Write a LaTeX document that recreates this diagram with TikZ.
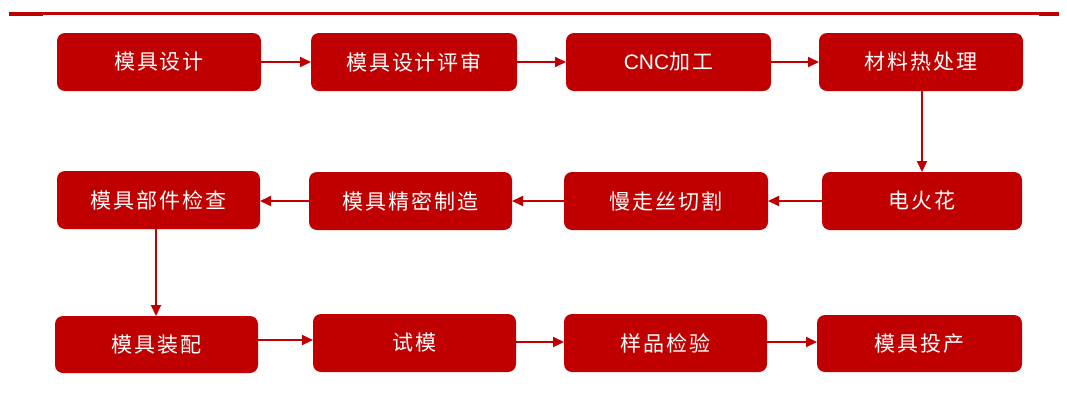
\documentclass[tikz,border=0pt]{standalone}
\usepackage{fontspec}
\newfontfamily\cjk{Noto Sans CJK SC}
\newfontfamily\latinsans{Liberation Sans}
\usetikzlibrary{arrows.meta}
\definecolor{boxred}{HTML}{C00000}
\tikzset{
  x=1pt, y=-1pt,
  stage/.style={text=white,
    font=\cjk\fontsize{21pt}{24pt}\selectfont\addfontfeature{LetterSpace=9},
    inner sep=0pt},
  flow/.style={draw=boxred, line width=2pt, -{Triangle[length=11pt,width=10pt]}},
}
\newcommand{\stagebox}[6]{%
  \path[fill=boxred, rounded corners=8pt] (#1,#2) rectangle (#3,#4);
  \node[stage, anchor=center] (#5) at ({(#1+#3)/2},{(#2+#4)/2}) {#6};
  \coordinate (#5-w) at (#1,{(#2+#4)/2});
  \coordinate (#5-e) at (#3,{(#2+#4)/2});
  \coordinate (#5-n) at ({(#1+#3)/2},#2);
  \coordinate (#5-s) at ({(#1+#3)/2},#4);
}
\begin{document}
\begin{tikzpicture}
\useasboundingbox (0,0) rectangle (1067,392);
% top rule
\fill[boxred] (9,12.3) rectangle (1059,14.8);
\fill[boxred] (9,12.3) rectangle (43,15.7);
\fill[boxred] (1039,12.3) rectangle (1059,15.7);
% row 1
\stagebox{57}{33}{261}{91}{a}{模具设计}
\stagebox{311}{33}{517}{91}{b}{模具设计评审}
\stagebox{566}{33}{771}{91}{c}{{\latinsans\fontsize{21pt}{24pt}\selectfont CNC}加工}
\stagebox{819}{33}{1023}{91}{d}{材料热处理}
% row 2
\stagebox{822}{172}{1022}{230}{e}{电火花}
\stagebox{564}{172}{768}{230}{f}{慢走丝切割}
\stagebox{309}{172}{512}{230}{g}{模具精密制造}
\stagebox{57}{171}{260}{229}{h}{模具部件检查}
% row 3
\stagebox{55}{316}{258}{373}{i}{模具装配}
\stagebox{313}{314}{516}{372}{j}{试模}
\stagebox{564}{314}{767}{372}{k}{样品检验}
\stagebox{817}{315}{1022}{372}{l}{模具投产}
% connectors
\draw[flow] (a-e) -- (b-w);
\draw[flow] (b-e) -- (c-w);
\draw[flow] (c-e) -- (d-w);
\draw[flow] (d-s -| e-n) -- (e-n);
\draw[flow] (e-w) -- (f-e);
\draw[flow] (f-w) -- (g-e);
\draw[flow] (g-w) -- (g-w -| h-e);
\draw[flow] (h-s -| 156,0) -- (i-n -| 156,0);
\draw[flow] (i-e |- 0,340) -- (j-w |- 0,340);
\draw[flow] (j-e |- 0,342) -- (k-w |- 0,342);
\draw[flow] (k-e |- 0,342) -- (l-w |- 0,342);
\end{tikzpicture}
\end{document}
